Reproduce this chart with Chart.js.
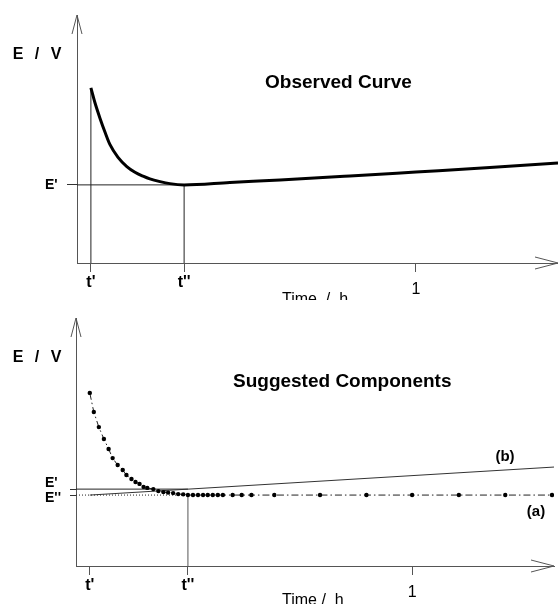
<!DOCTYPE html>
<html>
<head>
<meta charset="utf-8">
<script src="https://cdn.jsdelivr.net/npm/chart.js@4/dist/chart.umd.min.js"></script>
<style>
  html, body { margin: 0; padding: 0; background: #fff; overflow: hidden; }
  .panel { position: relative; width: 558px; }
  canvas { display: block; }
</style>
</head>
<body>
<div class="panel" style="height:300px"><canvas id="topChart"></canvas></div>
<div class="panel" style="height:304px"><canvas id="bottomChart"></canvas></div>
<script>
// Observed curve (time in h, potential in arbitrary units)
const obsTime = [0.041, 0.053, 0.068, 0.083, 0.097, 0.121, 0.147, 0.171, 0.195, 0.215, 0.245, 0.274, 0.316, 0.451, 0.599, 0.805, 1.0, 1.218, 1.419];
const obsE = [70.6, 64.6, 58.3, 52.6, 47.8, 42.6, 38.9, 36.6, 35.0, 33.9, 32.8, 32.0, 31.5, 32.5, 33.5, 35.1, 36.7, 38.5, 40.3];

// Component (a): decaying part, sampled points
const compATime = [0.041, 0.053, 0.068, 0.083, 0.097, 0.109, 0.124, 0.139, 0.150, 0.165, 0.177, 0.189, 0.201, 0.212, 0.230, 0.245, 0.260, 0.274, 0.289, 0.304, 0.319, 0.333, 0.348, 0.363, 0.378, 0.392, 0.407, 0.422, 0.437, 0.466, 0.493, 0.522, 0.590, 0.726, 0.864, 1.0, 1.139, 1.277, 1.416];
const compAE = [69.8, 62.1, 56.0, 51.2, 47.2, 43.5, 40.7, 38.7, 36.7, 35.1, 33.9, 33.1, 31.9, 31.5, 31.0, 30.2, 29.8, 29.6, 29.4, 29.0, 28.9, 28.6, 28.6, 28.6, 28.6, 28.6, 28.6, 28.6, 28.6, 28.6, 28.6, 28.6, 28.6, 28.6, 28.6, 28.6, 28.6, 28.6, 28.6];

// Component (b): linear part
const compBTime = [0.041, 1.422];
const compBE = [28.6, 39.9];

// axis ticks
const xTickLabels = ["t'", "t''", "1"];
const topXTicks = [0.041, 0.316, 1];
const bottomXTicks = [0.041, 0.333, 1];
const topYTicks = [31.5];
const topYLabels = ["E'"];
const bottomYTicks = [28.6, 31.0];
const bottomYLabels = [["", "E''"], ["E'", ""]];

const FONT = "'Liberation Sans', Arial, sans-serif";
Chart.defaults.font.family = FONT;
Chart.defaults.color = "#000";

const pts = (xs, ys) => xs.map((x, i) => ({ x, y: ys[i] }));

// arrows + free texts
function decorations(texts) {
  return {
    id: "decorations",
    afterDraw(chart) {
      const { ctx, chartArea: a } = chart;
      ctx.save();
      ctx.strokeStyle = "#555";
      ctx.lineWidth = 1;
      ctx.beginPath();
      ctx.moveTo(a.left - 5, a.top + 19);
      ctx.lineTo(a.left, a.top);
      ctx.lineTo(a.left + 5, a.top + 19);
      ctx.moveTo(a.right - 23, a.bottom - 6);
      ctx.lineTo(a.right, a.bottom);
      ctx.lineTo(a.right - 23, a.bottom + 6);
      ctx.stroke();
      ctx.fillStyle = "#000";
      for (const t of texts) {
        ctx.font = t.font + " " + FONT;
        ctx.textAlign = t.align || "left";
        ctx.textBaseline = t.base || "alphabetic";
        ctx.fillText(t.text, t.x, t.y);
      }
      ctx.restore();
    }
  };
}

function xScale(max, ticks, height) {
  return {
    type: "linear",
    min: 0,
    max: max,
    afterBuildTicks: s => { s.ticks = ticks.map(v => ({ value: v })); },
    afterFit: s => { s.height = height; },
    ticks: {
      autoSkip: false,
      maxRotation: 0,
      padding: 1,
      callback: (v, i) => xTickLabels[i],
      font: ctx => ctx.index < 2
        ? { size: 16, weight: "bold", lineHeight: 1.2 }
        : { size: 16, weight: "normal", lineHeight: "33px" }
    },
    grid: { drawOnChartArea: false, drawTicks: true, tickLength: 9, color: "#555" },
    border: { display: true, color: "#555", width: 1 }
  };
}

function yScale(ticks, labels, width, tickLen, fontFn) {
  return {
    type: "linear",
    min: 0,
    max: 100,
    afterBuildTicks: s => { s.ticks = ticks.map(v => ({ value: v })); },
    afterFit: s => { s.width = width; },
    ticks: {
      autoSkip: false,
      crossAlign: "far",
      padding: 0,
      callback: (v, i) => labels[i],
      font: fontFn
    },
    grid: { drawOnChartArea: false, drawTicks: true, tickLength: tickLen, color: "#333" },
    border: { display: true, color: "#555", width: 1 }
  };
}

const thin = (data, extra) => Object.assign({
  data, borderColor: "#222", borderWidth: 1, pointRadius: 0, fill: false
}, extra || {});

// upper panel
new Chart(document.getElementById("topChart"), {
  type: "scatter",
  data: {
    datasets: [
      thin(pts(obsTime, obsE), { borderColor: "#000", borderWidth: 3, showLine: true, cubicInterpolationMode: "monotone" }),
      thin([{ x: topXTicks[0], y: 0 }, { x: topXTicks[0], y: obsE[0] }], { showLine: true }),
      thin([{ x: topXTicks[1], y: 0 }, { x: topXTicks[1], y: topYTicks[0] }], { showLine: true }),
      thin([{ x: 0, y: topYTicks[0] }, { x: topXTicks[1], y: topYTicks[0] }], { showLine: true })
    ]
  },
  options: {
    responsive: true,
    maintainAspectRatio: false,
    animation: false,
    events: [],
    layout: { padding: { top: 15, left: 45, right: 0, bottom: 0 } },
    plugins: { legend: { display: false }, tooltip: { enabled: false } },
    scales: {
      x: xScale(1.419, topXTicks, 37),
      y: yScale(topYTicks, topYLabels, 32, 10, () => ({ size: 14, weight: "bold" }))
    }
  },
  plugins: [decorations([
    { text: "E", x: 18, y: 58.5, font: "bold 16px", align: "center" },
    { text: "/", x: 37, y: 58.5, font: "bold 16px", align: "center" },
    { text: "V", x: 56, y: 58.5, font: "bold 16px", align: "center" },
    { text: "Observed Curve", x: 265, y: 88, font: "bold 19px" },
    { text: "Time  /  h", x: 282, y: 303.5, font: "16px" }
  ])]
});

// lower panel
new Chart(document.getElementById("bottomChart"), {
  type: "scatter",
  data: {
    datasets: [
      thin(pts(compATime, compAE), {
        showLine: true, borderDash: [7, 3, 1.5, 3], borderColor: "#222",
        pointRadius: 2.2, pointBackgroundColor: "#000", pointBorderWidth: 0
      }),
      thin(pts(compBTime, compBE), { showLine: true, borderColor: "#333" }),
      thin([{ x: 0, y: bottomYTicks[1] }, { x: bottomXTicks[1], y: bottomYTicks[1] }], { showLine: true }),
      thin([{ x: 0, y: bottomYTicks[0] }, { x: bottomXTicks[1], y: bottomYTicks[0] }], { showLine: true, borderDash: [1, 2] }),
      thin([{ x: bottomXTicks[1], y: 0 }, { x: bottomXTicks[1], y: bottomYTicks[0] }], { showLine: true, borderColor: "#555" })
    ]
  },
  options: {
    responsive: true,
    maintainAspectRatio: false,
    animation: false,
    events: [],
    layout: { padding: { top: 18, left: 45, right: 0, bottom: 0 } },
    plugins: { legend: { display: false }, tooltip: { enabled: false } },
    scales: {
      x: xScale(1.422, bottomXTicks, 38),
      y: yScale(bottomYTicks, bottomYLabels, 31, 6,
        ctx => ({ size: 14, weight: "bold", lineHeight: ctx.index === 0 ? "6px" : "12px" }))
    }
  },
  plugins: [decorations([
    { text: "E", x: 18, y: 61.5, font: "bold 16px", align: "center" },
    { text: "/", x: 37, y: 61.5, font: "bold 16px", align: "center" },
    { text: "V", x: 56, y: 61.5, font: "bold 16px", align: "center" },
    { text: "Suggested Components", x: 233, y: 87, font: "bold 19px" },
    { text: "(b)", x: 505, y: 157, font: "bold 15px", align: "center", base: "middle" },
    { text: "(a)", x: 536, y: 212, font: "bold 15px", align: "center", base: "middle" },
    { text: "Time /  h", x: 282, y: 304.5, font: "16px" }
  ])]
});
</script>
</body>
</html>
